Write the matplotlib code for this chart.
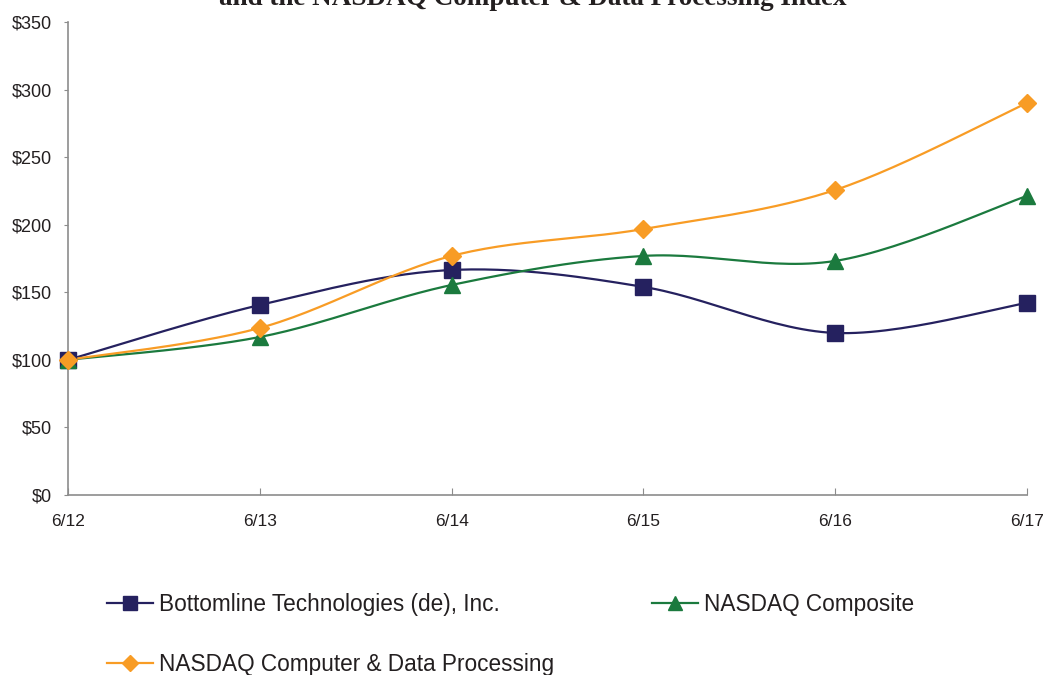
import numpy as np
import matplotlib
matplotlib.use("Agg")
import matplotlib.pyplot as plt
from matplotlib.lines import Line2D

periods = ["6/12", "6/13", "6/14", "6/15", "6/16", "6/17"]
bottomline = [100, 140.6, 166.5, 154.0, 119.9, 142.1]
nasdaq_comp = [100, 116.9, 155.4, 176.9, 173.2, 221.3]
nasdaq_cdp = [100, 123.6, 176.9, 196.8, 225.7, 290.1]
series_names = ["Bottomline Technologies (de), Inc.", "NASDAQ Composite",
                "NASDAQ Computer & Data Processing"]
yticks = [0, 50, 100, 150, 200, 250, 300, 350]

colors = ["#25215F", "#1B7A3E", "#F89C25"]
markers = ["s", "^", "D"]
msizes = [11.5, 11, 9]

plt.rcParams['font.family'] = ['Liberation Sans', 'DejaVu Sans']


def smooth(y, n=30):
    y = np.asarray(y, float)
    x = np.arange(len(y), dtype=float)
    P = np.column_stack([x, y])
    Pp = np.vstack([P[0], P, P[-1]])
    out = []
    t = np.linspace(0, 1, n)
    for i in range(len(P) - 1):
        p0, p1, p2, p3 = Pp[i], Pp[i + 1], Pp[i + 2], Pp[i + 3]
        c1 = p1 + (p2 - p0) / 6.0
        c2 = p2 - (p3 - p1) / 6.0
        tt = t[:, None]
        seg = ((1 - tt) ** 3) * p1 + 3 * ((1 - tt) ** 2) * tt * c1 + 3 * (1 - tt) * tt ** 2 * c2 + tt ** 3 * p2
        out.append(seg if i == 0 else seg[1:])
    s = np.vstack(out)
    return s[:, 0], s[:, 1]


fig = plt.figure(figsize=(10.45, 6.75), dpi=100)
ax = fig.add_axes([68 / 1045, 1 - 495 / 675, (1027 - 68) / 1045, (495 - 22) / 675])

x = np.arange(len(periods))
handles = []
for data, c, m, ms, name in zip([bottomline, nasdaq_comp, nasdaq_cdp], colors, markers, msizes, series_names):
    sx, sy = smooth(data)
    ax.plot(sx, sy, color=c, lw=1.6, clip_on=False, zorder=3)
    ax.plot(x, data, linestyle='none', marker=m, ms=ms, color=c, mec=c, clip_on=False, zorder=4)
    handles.append(Line2D([0], [0], color=c, lw=1.6, marker=m, ms=ms * 0.9, mec=c, label=name))

ax.set_xlim(0, 5)
ax.set_ylim(0, 350)
ax.set_xticks(x)
ax.set_xticklabels(periods)
ax.set_yticks(yticks)
ax.set_yticklabels([f"${v}" for v in yticks])
for s in ["top", "right"]:
    ax.spines[s].set_visible(False)
for s in ["left", "bottom"]:
    ax.spines[s].set_color("#8C8C8C")
    ax.spines[s].set_linewidth(1.2)
ax.tick_params(axis='x', direction='in', length=5, color="#8C8C8C", labelsize=12.5, pad=14, labelcolor="#231F20")
ax.tick_params(axis='y', direction='out', length=3, color="#8C8C8C", labelsize=13, pad=8.5, labelcolor="#231F20")

fig.text(533 / 1045, 1 - 5 / 675, "and the NASDAQ Computer & Data Processing Index",
         ha='center', va='baseline', fontsize=19.5, fontweight='bold',
         family=['Liberation Serif', 'DejaVu Serif'], color="#231F20")

# order so that column 1 holds Bottomline and C&DP, column 2 holds Composite
leg_order = [0, 2, 1]
leg = fig.legend(handles=[handles[i] for i in leg_order], ncol=2, loc='upper left',
                 bbox_to_anchor=(107 / 1045, 1 - 593 / 675),
                 frameon=False, fontsize=16.3, handlelength=2.03, handletextpad=0.25,
                 columnspacing=4.35, labelspacing=1.62, borderaxespad=0, borderpad=0)
for t in leg.get_texts():
    t.set_color("#231F20")

fig.savefig("out.png", dpi=100)
